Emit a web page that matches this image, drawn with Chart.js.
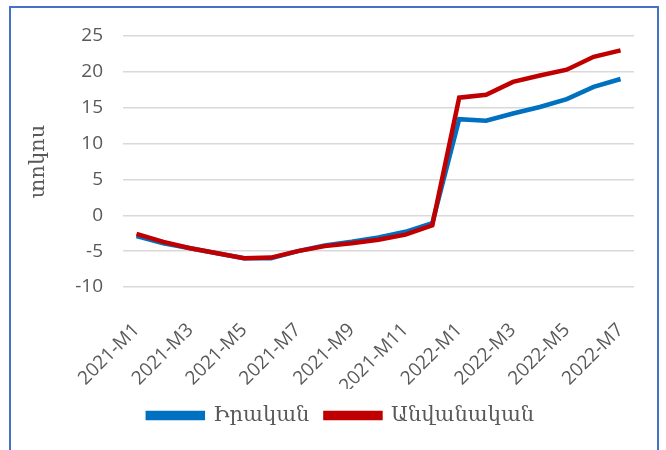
<!DOCTYPE html>
<html>
<head>
<meta charset="utf-8">
<script src="https://cdn.jsdelivr.net/npm/chart.js@4.4.1/dist/chart.umd.min.js"></script>
<style>
  html, body { margin: 0; padding: 0; background: #fff; }
  #wrap { position: relative; width: 666px; height: 450px; overflow: hidden; }
  #frame {
    position: absolute; left: 9px; top: 6px; width: 650px; height: 460px;
    border: 2px solid #4472C4; box-sizing: border-box;
  }
  canvas { position: absolute; left: 0; top: 0; }
</style>
</head>
<body>
<div id="wrap">
  <div id="frame"></div>
  <canvas id="chart" width="666" height="450"></canvas>
</div>
<script>
  const months = [
    "2021-M1", "2021-M2", "2021-M3", "2021-M4", "2021-M5", "2021-M6",
    "2021-M7", "2021-M8", "2021-M9", "2021-M10", "2021-M11", "2021-M12",
    "2022-M1", "2022-M2", "2022-M3", "2022-M4", "2022-M5", "2022-M6", "2022-M7"
  ];
  // Իրական
  const realValues = [
    -2.9, -3.9, -4.6, -5.3, -6.0, -6.0, -5.0, -4.2, -3.7, -3.1, -2.3, -1.1,
    13.4, 13.2, 14.2, 15.1, 16.2, 17.9, 19.0
  ];
  // Անվանական
  const nominalValues = [
    -2.6, -3.7, -4.6, -5.3, -6.0, -5.9, -5.0, -4.3, -3.9, -3.4, -2.7, -1.4,
    16.4, 16.8, 18.6, 19.5, 20.3, 22.1, 23.0
  ];
  const yTicks = { min: -10, max: 25, step: 5 };

  const armFont = "'DejaVu Serif', 'DejaVu Sans', serif";
  const numFont = "'Open Sans', 'Liberation Sans', sans-serif";

  // legend sits a bit right of the plot centre in the original
  const legendShift = {
    id: "legendShift",
    afterLayout(chart) {
      chart.legend.left += 11;
      chart.legend.right += 11;
    },
  };

  new Chart(document.getElementById("chart").getContext("2d"), {
    type: "line",
    data: {
      labels: months,
      datasets: [
        {
          label: "Իրական",
          data: realValues,
          borderColor: "#0070C0",
          backgroundColor: "#0070C0",
          borderWidth: 4.5,
          pointRadius: 0,
          tension: 0,
          order: 1,
        },
        {
          label: "Անվանական",
          data: nominalValues,
          borderColor: "#C00000",
          backgroundColor: "#C00000",
          borderWidth: 4.5,
          pointRadius: 0,
          tension: 0,
          order: 0, // red drawn over blue
        },
      ],
    },
    plugins: [legendShift],
    options: {
      responsive: false,
      animation: false,
      layout: { padding: { left: 26, right: 32, top: 36, bottom: 14 } },
      plugins: {
        legend: {
          position: "bottom",
          labels: {
            boxWidth: 55,
            boxHeight: 5,
            padding: 16,
            color: "#595959",
            font: { family: armFont, size: 21 },
            sort: (a, b) => a.datasetIndex - b.datasetIndex,
          },
        },
        tooltip: { enabled: false },
      },
      scales: {
        x: {
          offset: true,
          grid: { display: false },
          border: { display: false },
          afterFit: (s) => { s.height = 102; },
          ticks: {
            autoSkip: false,
            maxRotation: 45,
            minRotation: 45,
            padding: 24,
            color: "#595959",
            font: { family: numFont, size: 19 },
            callback: (v, i) => (i % 2 === 0 ? months[i] : ""),
          },
        },
        y: {
          min: yTicks.min,
          max: yTicks.max,
          grid: { color: "#D9D9D9", lineWidth: 1.5, drawTicks: false },
          border: { display: false },
          ticks: {
            stepSize: yTicks.step,
            padding: 20,
            color: "#595959",
            font: { family: numFont, size: 19 },
          },
          title: {
            display: true,
            text: "տոկոս",
            color: "#595959",
            font: { family: armFont, size: 21 },
            padding: { top: 0, bottom: 4 },
          },
        },
      },
    },
  });
</script>
</body>
</html>
